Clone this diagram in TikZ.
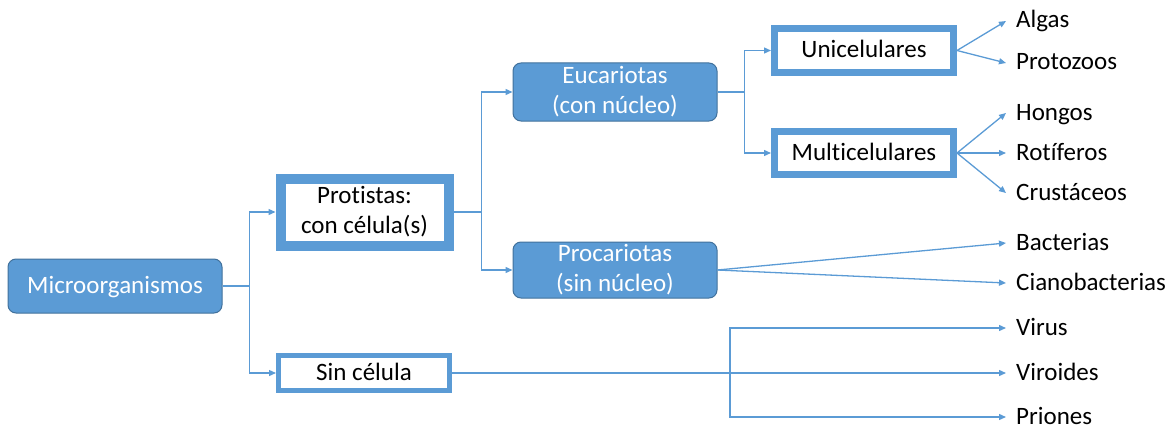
\documentclass[tikz,border=0pt]{standalone}
\usepackage{fontspec}
\setmainfont{Carlito}[Ligatures=NoCommon]
\usetikzlibrary{arrows.meta}
\definecolor{mapblue}{RGB}{91,155,213}
\definecolor{mapedge}{RGB}{65,113,156}

\begin{document}
\begin{tikzpicture}[x=1pt,y=-1pt,
    font=\fontsize{25}{30}\selectfont,
    oneline/.style={text height=18pt,text depth=4pt},
    topic/.style={rounded corners=8pt,fill=mapblue,draw=mapedge,line width=1pt,
        text=white,align=center,inner sep=0pt},
    frame/.style={draw=mapblue,fill=white,align=center,inner sep=0pt},
    leaf/.style={anchor=west,inner xsep=10pt,inner ysep=0pt,oneline},
    link/.style={draw=mapblue,line width=1.3pt,-{Triangle[length=7pt,width=6pt]}},
    trunk/.style={draw=mapblue,line width=1.3pt}]
    \useasboundingbox (0,0) rectangle (1173,428);

    % Root
    \node[topic,oneline,minimum width=214pt,minimum height=54pt] (micro) at (115,286) {Microorganismos};

    % With / without cells
    \node[frame,line width=10pt,minimum width=168pt,minimum height=67pt] (prot) at (364.5,212) {Protistas:\\con célula(s)};
    \node[frame,oneline,line width=5pt,minimum width=171pt,minimum height=35pt] (sincel) at (364,373) {Sin célula};

    % Cell types
    \node[topic,minimum width=204pt,minimum height=58pt] (euc) at (615,92) {Eucariotas\\(con núcleo)};
    \node[topic,minimum width=204pt,minimum height=56pt] (proc) at (615,270) {Procariotas\\(sin núcleo)};

    % Eukaryote groups
    \node[frame,oneline,line width=7pt,minimum width=179pt,minimum height=44pt] (uni) at (864,50.5) {Unicelulares};
    \node[frame,oneline,line width=7pt,minimum width=179pt,minimum height=43pt] (multi) at (864,153) {Multicelulares};

    % Leaves
    \foreach \name/\y/\txt in {algas/21/Algas, protoz/63/Protozoos, hongos/113/Hongos,
        rotif/153/Rotíferos, crust/193/Crustáceos, bact/243/Bacterias,
        ciano/283/Cianobacterias, virus/328/Virus, viroid/373/Viroides, prion/417/Priones}
        \node[leaf] (\name) at (1006,\y) {\txt};

    % Branch points
    \path (micro.east) ++(27,0) coordinate (j1);
    \path (prot.east) ++(28,0) coordinate (j2);
    \path (euc.east) ++(27,0) coordinate (j3);
    \coordinate (j4) at (730,373);

    % Connectors
    \draw[trunk] (micro.east) -- (j1);
    \draw[link] (j1) |- (prot.west);
    \draw[link] (j1) |- (sincel.west);
    \draw[trunk] (prot.east) -- (j2);
    \draw[link] (j2) |- (euc.west);
    \draw[link] (j2) |- (proc.west);
    \draw[trunk] (euc.east) -- (j3);
    \draw[link] (j3) |- (uni.west);
    \draw[link] (j3) |- (multi.west);
    \foreach \leaf in {algas,protoz}
        \draw[link] (uni.east) -- (\leaf.west);
    \foreach \leaf in {hongos,rotif,crust}
        \draw[link] (multi.east) -- (\leaf.west);
    \foreach \leaf in {bact,ciano}
        \draw[link] (proc.east) -- (\leaf.west);
    \draw[link] (sincel.east) -- (viroid.west);
    \draw[link] (j4) |- (virus.west);
    \draw[link] (j4) |- (prion.west);
\end{tikzpicture}
\end{document}
